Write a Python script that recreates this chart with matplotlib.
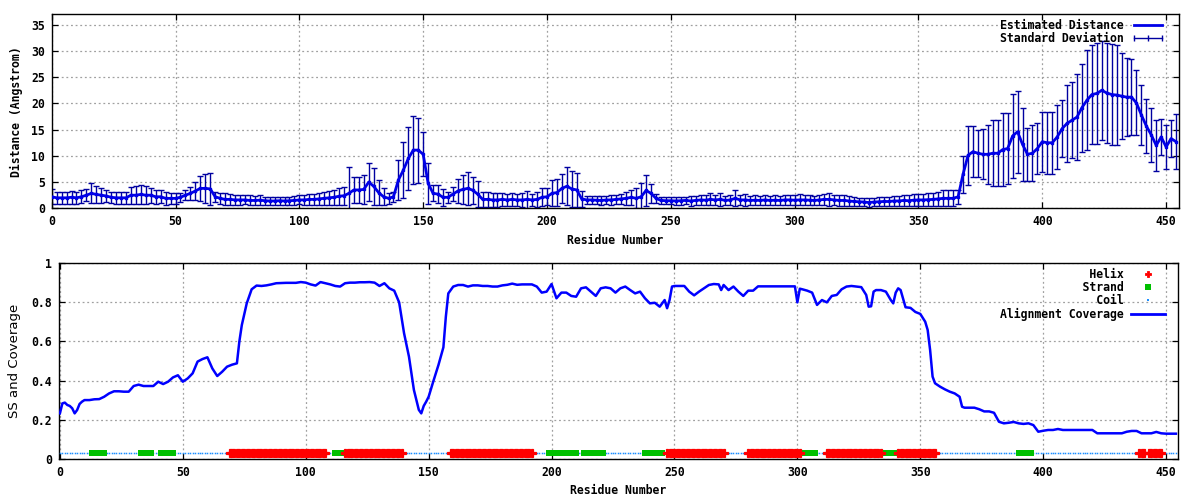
import numpy as np
import matplotlib
matplotlib.use('Agg')
import matplotlib.pyplot as plt
from matplotlib.lines import Line2D
from matplotlib.ticker import MultipleLocator, FuncFormatter

# ---- top panel: estimated distance per residue (every 2nd residue) ----
dist_res = list(range(0, 456, 2))
dist = [2.2, 2.0, 2.0, 2.0, 2.1, 2.0, 2.2, 2.5, 2.85, 2.65,
        2.5, 2.35, 2.1, 2.0, 2.0, 2.0, 2.5, 2.5, 2.65, 2.5,
        2.5, 2.2, 2.2, 1.9, 1.9, 1.9, 2.1, 2.5, 2.85, 3.3,
        3.8, 3.8, 3.7, 2.2, 1.9, 1.7, 1.7, 1.6, 1.6, 1.6,
        1.5, 1.5, 1.55, 1.45, 1.4, 1.4, 1.45, 1.4, 1.45, 1.5,
        1.6, 1.6, 1.7, 1.7, 1.8, 1.9, 2.0, 2.1, 2.3, 2.4,
        2.85, 3.5, 3.5, 3.6, 5.0, 4.2, 3.0, 2.2, 1.9, 2.2,
        5.4, 7.3, 9.5, 11.1, 11.1, 10.3, 4.75, 2.85, 2.7, 2.1,
        2.1, 2.7, 3.3, 3.6, 3.8, 3.45, 2.7, 1.7, 1.7, 1.6,
        1.6, 1.7, 1.6, 1.7, 1.6, 1.6, 1.7, 1.6, 1.7, 2.1,
        2.2, 2.85, 3.0, 3.8, 4.2, 3.7, 3.5, 1.8, 1.6, 1.6,
        1.55, 1.5, 1.6, 1.6, 1.7, 1.8, 1.9, 2.1, 1.9, 2.2,
        3.4, 2.85, 1.9, 1.5, 1.45, 1.45, 1.4, 1.45, 1.5, 1.4,
        1.5, 1.6, 1.55, 1.7, 1.6, 1.7, 1.5, 1.6, 1.9, 1.6,
        1.6, 1.5, 1.55, 1.5, 1.6, 1.5, 1.55, 1.5, 1.6, 1.6,
        1.55, 1.6, 1.6, 1.55, 1.5, 1.6, 1.7, 1.7, 1.6, 1.5,
        1.5, 1.4, 1.3, 1.25, 1.2, 1.1, 1.2, 1.25, 1.3, 1.3,
        1.4, 1.4, 1.5, 1.45, 1.55, 1.6, 1.6, 1.65, 1.7, 1.8,
        1.9, 1.9, 1.9, 2.2, 6.5, 10.1, 10.8, 10.5, 10.3, 10.3,
        10.5, 10.5, 11.2, 11.4, 13.8, 14.6, 12.2, 10.3, 10.5, 11.4,
        12.7, 12.5, 12.5, 13.6, 15.2, 16.2, 16.8, 17.4, 19.2, 20.6,
        21.7, 21.9, 22.5, 22.0, 21.7, 21.6, 21.4, 21.2, 21.2, 20.1,
        17.8, 15.7, 14.0, 12.0, 13.6, 11.7, 13.3, 12.7]
dist_sd = [1.4, 1.2, 1.2, 1.2, 1.2, 1.2, 1.2, 1.1, 1.9, 1.65,
           1.4, 1.2, 1.1, 1.2, 1.2, 1.2, 1.6, 1.7, 1.75, 1.7,
           1.4, 1.3, 1.2, 1.3, 1.1, 1.1, 0.9, 0.9, 1.25, 1.8,
           2.35, 2.7, 3.0, 1.0, 1.1, 1.15, 1.1, 0.9, 0.9, 0.85,
           0.95, 0.9, 0.9, 0.8, 0.8, 0.75, 0.8, 0.8, 0.75, 0.8,
           0.85, 0.9, 1.0, 1.0, 1.1, 1.2, 1.3, 1.4, 1.6, 1.7,
           5.05, 2.4, 2.4, 2.7, 3.7, 3.5, 2.4, 1.6, 1.1, 1.0,
           3.8, 5.3, 6.0, 6.5, 6.2, 4.2, 3.85, 1.55, 1.7, 1.6,
           1.1, 1.3, 2.3, 2.8, 3.1, 2.6, 2.5, 1.5, 1.4, 1.3,
           1.3, 1.3, 1.2, 1.3, 1.2, 1.3, 1.6, 1.2, 1.5, 1.7,
           1.6, 2.5, 2.5, 2.8, 3.6, 3.4, 3.2, 1.5, 0.8, 0.8,
           0.8, 0.8, 0.8, 0.9, 0.9, 1.0, 1.2, 1.4, 1.9, 2.7,
           2.9, 1.8, 0.8, 0.7, 0.7, 0.65, 0.7, 0.8, 0.75, 0.9,
           0.8, 0.9, 0.9, 1.15, 1.0, 1.2, 0.8, 0.9, 1.5, 0.9,
           1.1, 0.8, 0.9, 0.8, 1.0, 0.9, 0.9, 0.8, 0.9, 1.0,
           1.0, 1.05, 1.0, 0.9, 0.9, 1.0, 1.1, 1.3, 1.0, 1.0,
           1.05, 0.9, 0.9, 0.8, 0.8, 0.8, 0.8, 0.9, 0.9, 0.9,
           0.9, 1.0, 1.0, 1.1, 1.1, 1.1, 1.2, 1.3, 1.3, 1.4,
           1.5, 1.5, 1.5, 1.3, 3.5, 5.6, 4.9, 4.5, 4.8, 5.6,
           6.3, 6.3, 7.0, 6.7, 8.0, 7.8, 7.0, 5.1, 5.3, 4.8,
           5.7, 5.9, 5.9, 6.1, 5.4, 7.3, 7.3, 8.2, 8.4, 9.5,
           9.4, 9.6, 9.4, 9.5, 9.6, 9.5, 8.2, 7.5, 7.2, 6.2,
           5.7, 5.2, 5.2, 4.8, 3.5, 4.2, 3.5, 5.2]

# ---- bottom panel: alignment coverage ----
cov_res = [0, 1, 2, 3, 4, 5, 6, 7, 8, 9, 10, 12, 14, 16, 18, 20, 22, 24, 26, 28,
           30, 32, 34, 36, 38, 40, 42, 44, 46, 48, 50, 52, 54, 56, 58, 60, 62, 64, 66, 68,
           70, 72, 73, 74, 76, 78, 80, 82, 84, 86, 88, 90, 92, 94, 96, 98, 100, 102, 104, 106,
           108, 110, 112, 114, 116, 118, 120, 122, 124, 126, 128, 130, 132, 134, 136, 138, 140, 142, 144, 146,
           147, 148, 149, 150, 152, 154, 156, 157, 158, 160, 162, 164, 166, 168, 170, 172, 174, 176, 178, 180,
           182, 184, 186, 188, 190, 192, 194, 196, 198, 200, 202, 204, 206, 208, 210, 212, 214, 216, 218, 220,
           222, 224, 226, 228, 230, 232, 234, 236, 238, 240, 242, 244, 246, 247, 248, 249, 250, 252, 254, 256,
           258, 260, 262, 264, 266, 268, 269, 270, 272, 274, 276, 278, 280, 282, 284, 286, 288, 290, 292, 294,
           296, 299, 300, 301, 302, 304, 306, 308, 310, 312, 314, 316, 318, 320, 322, 324, 326, 328, 329, 330,
           331, 332, 334, 336, 338, 339, 340, 341, 342, 344, 346, 348, 350, 352, 353, 354, 355, 356, 358, 360,
           362, 364, 366, 367, 368, 370, 372, 374, 376, 378, 380, 382, 384, 386, 388, 390, 392, 394, 396, 398,
           400, 402, 404, 406, 408, 420, 422, 432, 434, 436, 438, 440, 444, 446, 448, 450, 454]
cov_val = [0.232, 0.283, 0.287, 0.275, 0.27, 0.258, 0.232, 0.249, 0.28, 0.292, 0.30, 0.30, 0.304, 0.305, 0.317, 0.334, 0.345, 0.345, 0.343, 0.343,
           0.372, 0.379, 0.372, 0.372, 0.372, 0.394, 0.382, 0.394, 0.416, 0.427, 0.394, 0.411, 0.437, 0.497, 0.51, 0.519, 0.462, 0.423, 0.445, 0.471,
           0.481, 0.488, 0.60, 0.684, 0.795, 0.867, 0.886, 0.884, 0.887, 0.892, 0.898, 0.899, 0.90, 0.90, 0.90, 0.904, 0.901, 0.892, 0.886, 0.904,
           0.898, 0.892, 0.884, 0.881, 0.898, 0.901, 0.901, 0.903, 0.903, 0.904, 0.901, 0.884, 0.898, 0.872, 0.86, 0.80, 0.642, 0.522, 0.352, 0.25,
           0.232, 0.27, 0.292, 0.317, 0.40, 0.48, 0.57, 0.727, 0.846, 0.881, 0.889, 0.889, 0.881, 0.887, 0.887, 0.884, 0.884, 0.881, 0.881, 0.887,
           0.890, 0.896, 0.890, 0.892, 0.892, 0.892, 0.881, 0.85, 0.855, 0.894, 0.821, 0.85, 0.85, 0.833, 0.829, 0.872, 0.877, 0.855, 0.833, 0.872,
           0.877, 0.872, 0.85, 0.872, 0.881, 0.863, 0.846, 0.855, 0.821, 0.795, 0.798, 0.778, 0.812, 0.77, 0.812, 0.881, 0.884, 0.884, 0.884, 0.855,
           0.836, 0.855, 0.872, 0.889, 0.894, 0.892, 0.863, 0.889, 0.863, 0.881, 0.855, 0.833, 0.86, 0.86, 0.882, 0.882, 0.882, 0.882, 0.882, 0.882,
           0.882, 0.882, 0.80, 0.87, 0.867, 0.86, 0.85, 0.787, 0.812, 0.80, 0.833, 0.838, 0.867, 0.881, 0.884, 0.881, 0.878, 0.838, 0.778, 0.78,
           0.855, 0.863, 0.863, 0.855, 0.812, 0.795, 0.85, 0.872, 0.863, 0.775, 0.772, 0.751, 0.741, 0.701, 0.659, 0.556, 0.42, 0.386, 0.369, 0.355,
           0.343, 0.334, 0.317, 0.266, 0.261, 0.261, 0.261, 0.253, 0.242, 0.242, 0.235, 0.189, 0.181, 0.184, 0.188, 0.181, 0.178, 0.181, 0.172, 0.138,
           0.143, 0.147, 0.147, 0.152, 0.147, 0.147, 0.13, 0.13, 0.138, 0.142, 0.142, 0.13, 0.13, 0.137, 0.13, 0.128, 0.128]

# secondary structure segments (first, last residue)
helix_segs = [(69, 108), (116, 139), (159, 192), (247, 270), (280, 301),
              (312, 334), (341, 356), (439, 441), (443, 448)]
strand_segs = [(13, 18), (33, 37), (41, 46), (112, 115), (199, 210), (213, 221),
               (238, 245), (302, 307), (335, 340), (390, 395)]
n_res = 455
ss_level = 0.03

helix = [r for a, b in helix_segs for r in range(a, b + 1)]
strand = [r for a, b in strand_segs for r in range(a, b + 1)]
coil = [r for r in range(n_res) if r not in helix and r not in strand]

mono = 'DejaVu Sans Mono'
plt.rcParams['font.family'] = mono
plt.rcParams['font.weight'] = 'bold'
plt.rcParams['font.size'] = 8.3
plt.rcParams['axes.labelweight'] = 'bold'

fig = plt.figure(figsize=(12, 5), dpi=100)
ax1 = fig.add_axes([0.0431, 0.5834, 0.9390, 0.388])
ax2 = fig.add_axes([0.0489, 0.0826, 0.9331, 0.3908])

grid_kw = dict(color='#a0a0a0', linestyle=(0, (1.5, 2.2)), linewidth=0.9)

def style(ax):
    ax.grid(True, **grid_kw)
    ax.set_axisbelow(True)
    ax.tick_params(direction='in', length=4, width=0.9, top=True, right=True,
                   labelsize=8.3, pad=5)
    for s in ax.spines.values():
        s.set_linewidth(1)

leg_kw = dict(loc='upper right', frameon=False, markerfirst=False,
              handlelength=3.0, handletextpad=0.6, labelspacing=0.0,
              borderaxespad=0.15, borderpad=0.3,
              prop={'family': mono, 'weight': 'bold', 'size': 8.3})

# top
ax1.errorbar(dist_res, dist, yerr=dist_sd, fmt='none', ecolor='#0000a0',
             elinewidth=1, capsize=2, capthick=1, zorder=2)
ax1.plot(dist_res, dist, color='#0000e8', lw=2, marker='s', ms=2, zorder=3)
ax1.set_xlim(0, 455)
ax1.set_ylim(0, 37)
ax1.xaxis.set_major_locator(MultipleLocator(50))
ax1.yaxis.set_major_locator(MultipleLocator(5))
ax1.set_xlabel('Residue Number', labelpad=4)
ax1.set_ylabel('Distance (Angstrom)', labelpad=6)
style(ax1)
h1 = [Line2D([0], [0], color='#0000e8', lw=2),
      Line2D([0], [0], color='#0000a0', lw=1, marker='|', ms=5, mew=1)]
ax1.legend(h1, ['Estimated Distance', 'Standard Deviation'], numpoints=3,
           bbox_to_anchor=(0.993, 1.0), **leg_kw)

# bottom
ax2.plot(coil, [ss_level] * len(coil), ls='none', marker='s', ms=1.1,
         color='#1e90ff', mew=0, zorder=3)
ax2.plot(strand, [ss_level] * len(strand), ls='none', marker='s', ms=5,
         color='#00c000', mew=0, zorder=3)
ax2.plot(helix, [ss_level] * len(helix), ls='none', marker='P', ms=5.5,
         color='#ff0000', mec='#ff0000', mew=0.9, zorder=3)
ax2.plot(cov_res, cov_val, color='#0000ff', lw=1.8, zorder=4)
ax2.set_xlim(-0.5, 455)
ax2.set_ylim(0, 1)
ax2.xaxis.set_major_locator(MultipleLocator(50))
ax2.yaxis.set_major_locator(MultipleLocator(0.2))
ax2.yaxis.set_major_formatter(FuncFormatter(lambda v, p: '%g' % round(v, 2)))
ax2.set_xlabel('Residue Number', labelpad=4)
ax2.set_ylabel('SS and Coverage', labelpad=7, family='DejaVu Sans',
               weight='normal', size=9.5)
style(ax2)
h2 = [Line2D([0], [0], ls='none', marker='P', ms=5, color='#ff0000', mew=0.6),
      Line2D([0], [0], ls='none', marker='s', ms=5, color='#00c000', mew=0),
      Line2D([0], [0], ls='none', marker='s', ms=1.5, color='#1e90ff', mew=0),
      Line2D([0], [0], color='#0000ff', lw=2)]
labels2 = [s.rjust(18) for s in ['Helix', 'Strand', 'Coil', 'Alignment Coverage']]
ax2.legend(h2, labels2, numpoints=1, bbox_to_anchor=(0.993, 1.0), **leg_kw)

fig.savefig('out.png', dpi=100)
